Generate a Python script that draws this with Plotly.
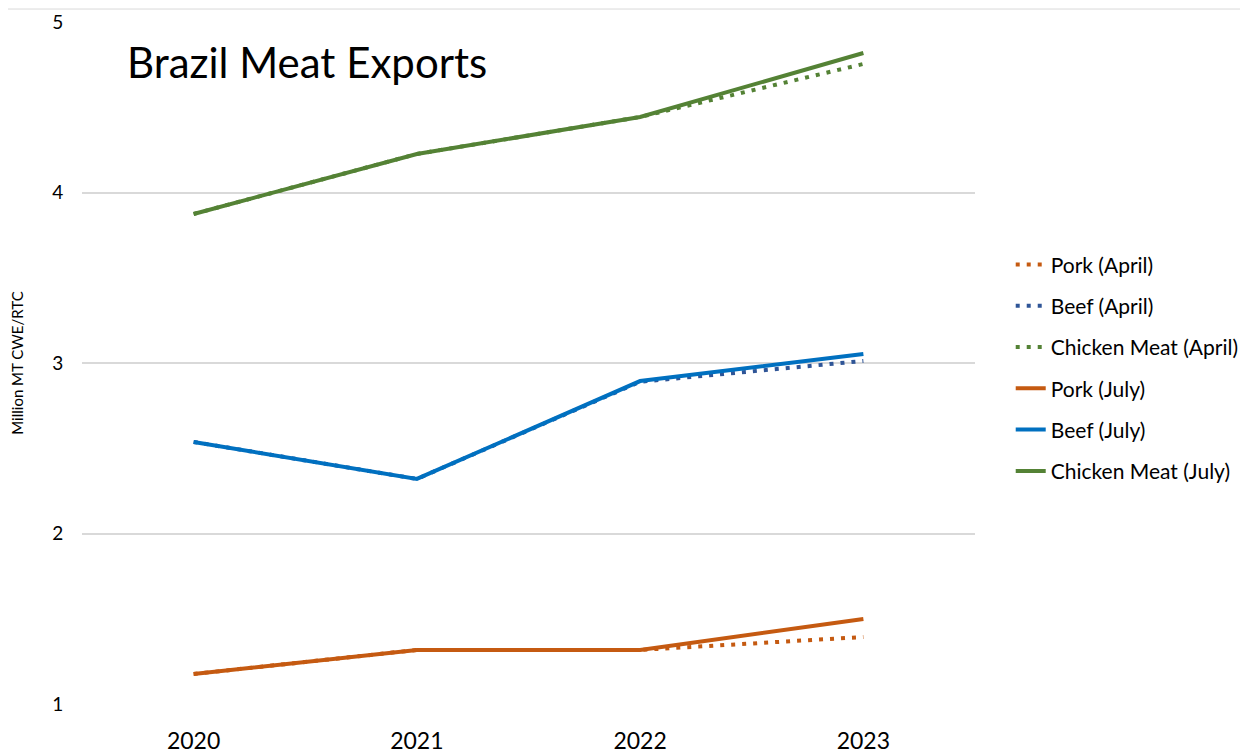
import plotly.graph_objects as go

years = ["2020", "2021", "2022", "2023"]
pork_april = [1.176, 1.317, 1.317, 1.393]
beef_april = [2.537, 2.32, 2.89, 3.012]
chicken_april = [3.874, 4.226, 4.443, 4.754]
pork_july = [1.176, 1.317, 1.317, 1.498]
beef_july = [2.537, 2.32, 2.894, 3.053]
chicken_july = [3.874, 4.226, 4.443, 4.818]
y_ticks = [1, 2, 3, 4, 5]

FONT = "Lato, 'Open Sans', sans-serif"
series = [
    ("Pork (April)", pork_april, "#C55A11", "4px,7px"),
    ("Beef (April)", beef_april, "#2F5597", "4px,7px"),
    ("Chicken Meat (April)", chicken_april, "#548235", "4px,7px"),
    ("Pork (July)", pork_july, "#C55A11", "solid"),
    ("Beef (July)", beef_july, "#0070C0", "solid"),
    ("Chicken Meat (July)", chicken_july, "#548235", "solid"),
]

fig = go.Figure()
for i, (name, vals, color, dash) in enumerate(series):
    fig.add_trace(go.Scatter(
        x=years, y=vals, name=name, mode="lines",
        line=dict(color=color, width=4, dash=dash),
        legendgroup=f"g{i}",
    ))

fig.update_layout(
    width=1248, height=752,
    paper_bgcolor="white", plot_bgcolor="white",
    margin=dict(l=74, r=279, t=14, b=56),
    font=dict(family=FONT, color="#000000"),
    xaxis=dict(
        type="category", range=[-0.5, 3.5], automargin=False,
        showgrid=False, zeroline=False, showline=False,
        ticks="outside", ticklen=16, tickcolor="rgba(0,0,0,0)",
        tickfont=dict(size=23, color="#000000"),
    ),
    yaxis=dict(
        range=[1, 5], tickvals=y_ticks, automargin=False,
        showgrid=True, gridcolor="#D9D9D9", gridwidth=2,
        zeroline=False, showline=False,
        ticks="outside", ticklen=14, tickcolor="rgba(0,0,0,0)",
        tickfont=dict(size=19, color="#000000"),
        title=dict(text="Million MT CWE/RTC", font=dict(size=15, color="#000000"), standoff=24),
    ),
    legend=dict(
        x=1.040, xanchor="left", y=0.493, yanchor="middle",
        font=dict(size=21, color="#000000"),
        tracegroupgap=11, bgcolor="rgba(0,0,0,0)",
    ),
    annotations=[dict(
        text="Brazil Meat Exports", xref="paper", yref="paper",
        x=0.048, y=0.941, xanchor="left", yanchor="middle",
        showarrow=False, font=dict(size=42, color="#000000", family=FONT),
    )],
    shapes=[dict(
        type="line", xref="paper", yref="paper",
        x0=-0.2, x1=1.4, y0=1.019, y1=1.019,
        line=dict(color="#D9D9D9", width=1),
    )],
)

fig.write_html("out.html")
